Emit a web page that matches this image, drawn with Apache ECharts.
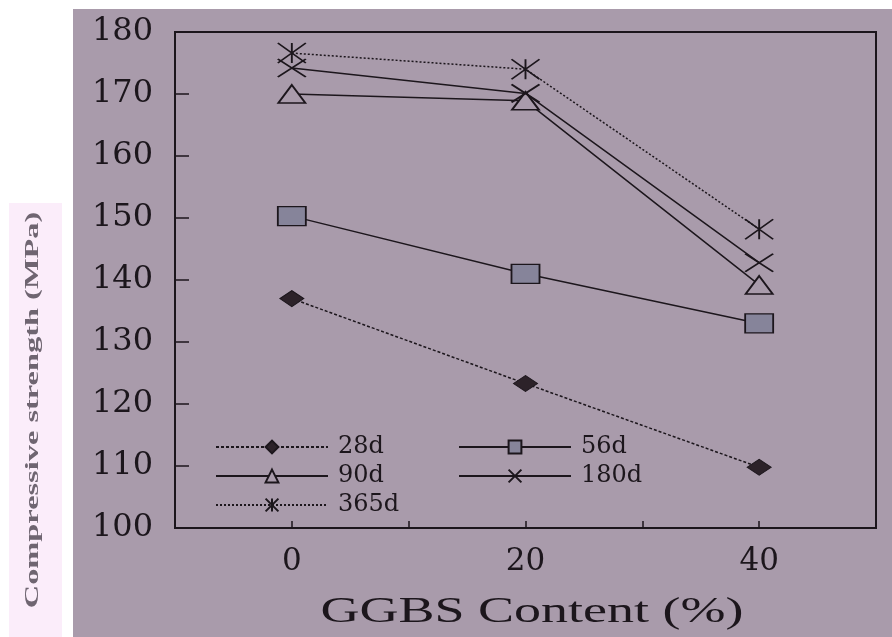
<!DOCTYPE html>
<html>
<head>
<meta charset="utf-8">
<script src="https://cdn.jsdelivr.net/npm/echarts@6/dist/echarts.min.js"></script>
<style>
  html, body { margin: 0; padding: 0; background: #ffffff; }
  #chart { width: 892px; height: 637px; }
</style>
</head>
<body>
<div id="chart"></div>
<script>
// GGBS content (%)
const ggbs = [0, 20, 40];
// Compressive strength (MPa) by curing age
const s28d  = [137.0, 123.3, 109.8];
const s56d  = [150.3, 141.0, 133.0];
const s90d  = [170.0, 168.9, 139.2];
const s180d = [174.2, 170.1, 142.8];
const s365d = [176.6, 174.0, 148.2];
const seriesNames = ['28d', '56d', '90d', '180d', '365d'];
const xTickLabels = ['0', '20', '40'];

const ink = '#1c161c';
const bg = '#a99bab';

function pts(vals) { return ggbs.map((x, i) => [x, vals[i]]); }

const legendText = { fontFamily: 'DejaVu Serif', fontSize: 24, color: ink, lineHeight: 20, padding: [0, 0, 0, 5] };

const chart = echarts.init(document.getElementById('chart'));
chart.setOption({
  animation: false,
  backgroundColor: '#ffffff',
  graphic: [
    { type: 'rect', z: -10, silent: true, shape: { x: 73, y: 9, width: 819, height: 628 }, style: { fill: bg } },
    { type: 'rect', z: -10, silent: true, shape: { x: 9, y: 203, width: 53, height: 434 }, style: { fill: '#fbedfa' } },
    { type: 'text', x: 33, y: 410, rotation: Math.PI / 2, scaleX: 1.8, silent: true,
      style: { text: 'Compressive strength (MPa)', font: 'bold 18px "Liberation Serif"', fill: '#6f6571', align: 'center', verticalAlign: 'middle' } },
    { type: 'text', x: 532, y: 613, scaleX: 1.5, silent: true,
      style: { text: 'GGBS Content (%)', font: '36px "Liberation Serif"', fill: ink, align: 'center', verticalAlign: 'middle' } }
  ],
  grid: {
    left: 175, right: 16, top: 32, bottom: 109,
    show: true, borderColor: ink, borderWidth: 2, backgroundColor: 'transparent'
  },
  legend: [
    {
      data: ['28d', '90d', '365d'], orient: 'vertical', left: 210, top: 430,
      itemWidth: 112, itemHeight: 16, itemGap: 5, textStyle: legendText
    },
    {
      data: ['56d', '180d'], orient: 'vertical', left: 453, top: 430,
      itemWidth: 112, itemHeight: 16, itemGap: 5, textStyle: legendText
    }
  ],
  xAxis: {
    type: 'value', min: -10, max: 50, interval: 10,
    axisLine: { onZero: false, lineStyle: { color: ink, width: 2 } },
    axisTick: { inside: true, length: 7, lineStyle: { color: ink, width: 1.5 } },
    splitLine: { show: false },
    axisLabel: {
      margin: 18, fontFamily: 'DejaVu Serif', fontSize: 31, color: ink,
      formatter: v => (xTickLabels.indexOf(String(v)) >= 0 ? String(v) : '')
    }
  },
  yAxis: {
    type: 'value', min: 100, max: 180, interval: 10,
    axisLine: { show: true, onZero: false, lineStyle: { color: ink, width: 2 } },
    axisTick: { show: true, inside: true, length: 14, lineStyle: { color: ink, width: 1.5 } },
    splitLine: { show: false },
    axisLabel: { margin: 22, fontFamily: 'DejaVu Serif', fontSize: 32, color: ink }
  },
  series: [
    {
      name: seriesNames[0], type: 'line', data: pts(s28d),
      symbol: 'path://M0,8L12,0L24,8L12,16Z', symbolSize: [24, 16],
      lineStyle: { color: ink, width: 1.5, type: [3, 2] },
      itemStyle: { color: '#2c2229', borderColor: ink, borderWidth: 1 }
    },
    {
      name: seriesNames[1], type: 'line', data: pts(s56d),
      symbol: 'rect', symbolSize: [28, 19],
      lineStyle: { color: ink, width: 1.5 },
      itemStyle: { color: '#86849a', borderColor: ink, borderWidth: 1.5 }
    },
    {
      name: seriesNames[2], type: 'line', data: pts(s90d),
      symbol: 'triangle', symbolSize: [27, 18],
      lineStyle: { color: ink, width: 1.5 },
      itemStyle: { color: bg, borderColor: ink, borderWidth: 1.8 }
    },
    {
      name: seriesNames[3], type: 'line', data: pts(s180d),
      symbol: 'path://M0,0L28,18M0,18L28,0', symbolSize: [28, 18],
      lineStyle: { color: ink, width: 1.5 },
      itemStyle: { color: 'rgba(0,0,0,0)', borderColor: ink, borderWidth: 1.8 }
    },
    {
      name: seriesNames[4], type: 'line', data: pts(s365d),
      symbol: 'path://M0,0L28,20M0,20L28,0M14,0L14,20', symbolSize: [28, 20],
      lineStyle: { color: ink, width: 1.5, type: [2, 2] },
      itemStyle: { color: 'rgba(0,0,0,0)', borderColor: ink, borderWidth: 1.6 }
    }
  ]
});
</script>
</body>
</html>
